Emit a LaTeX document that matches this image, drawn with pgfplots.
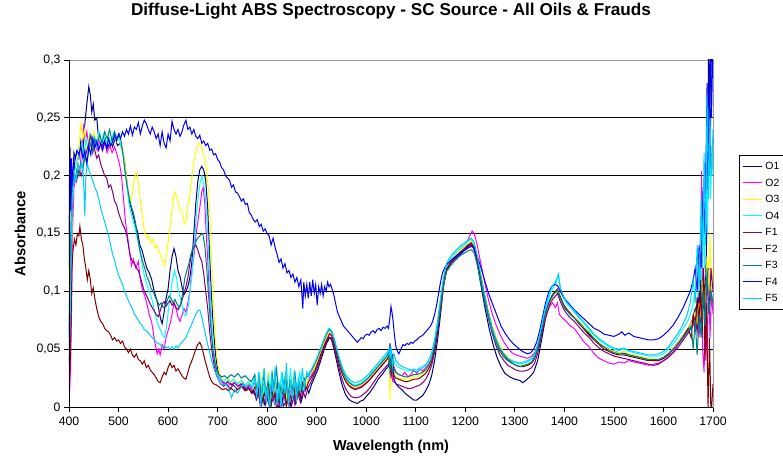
\documentclass[border=0pt]{standalone}
\usepackage{fontspec}
\setmainfont{Liberation Sans}
\usepackage{pgfplots}
\pgfplotsset{compat=1.18}

\definecolor{cO1}{HTML}{000080}
\definecolor{cO2}{HTML}{FF00FF}
\definecolor{cO3}{HTML}{FFFF00}
\definecolor{cO4}{HTML}{00FFFF}
\definecolor{cF1}{HTML}{800080}
\definecolor{cF2}{HTML}{800000}
\definecolor{cF3}{HTML}{008080}
\definecolor{cF4}{HTML}{0000FF}
\definecolor{cF5}{HTML}{00CCFF}

\begin{document}
\begin{tikzpicture}
\begin{axis}[
  at={(0,0)}, anchor=south west,
  scale only axis, width=644bp, height=347bp,
  xmin=400, xmax=1700, ymin=0, ymax=0.3,
  xtick={400,500,...,1700},
  ytick={0,0.05,0.1,0.15,0.2,0.25,0.3},
  scaled y ticks=false,
  /pgf/number format/assume math mode=true,
  xticklabel style={/pgf/number format/1000 sep={}, yshift=-1.5bp},
  yticklabel style={/pgf/number format/.cd, use comma, fixed, precision=2},
  ticklabel style={font=\fontsize{12.3}{14}\selectfont},
  tick pos=left, tick align=outside,
  major tick length=5bp,
  tick style={black, line width=0.75bp},
  ymajorgrids, grid style={black, line width=0.75bp},
  axis line style={draw=gray!80, line width=0.75bp},
  extra description/.code={
    \draw[black, line width=0.9bp] (0,1) -- (0,0) -- (1,0);
  },
  title={Diffuse-Light ABS Spectroscopy - SC Source - All Oils \& Frauds},
  title style={at={(axis description cs:0.5,1.1239)}, anchor=center,
    font=\bfseries\fontsize{17.2}{20}\selectfont},
  xlabel={Wavelength (nm)},
  xlabel style={at={(axis description cs:0.5,-0.1153)}, anchor=center,
    font=\bfseries\fontsize{14.5}{17}\selectfont},
  ylabel={Absorbance},
  ylabel style={at={(axis description cs:-0.0761,0.5)}, anchor=center,
    font=\bfseries\fontsize{14.8}{17}\selectfont},
  legend image code/.code={\draw[#1, line width=1bp] (0bp,0bp) -- (19bp,0bp);},
  legend cell align=left,
  legend style={at={(axis description cs:1.0404,0.7262)}, anchor=north west,
    draw=black, line width=0.75bp, fill=white,
    font=\fontsize{10.5}{12}\selectfont,
    inner xsep=3bp, inner ysep=6bp, row sep=7bp,
    nodes={inner sep=1bp, text height=7.5bp, text depth=0bp},
    /tikz/every odd column/.append style={column sep=2bp}},
  every axis plot/.append style={line width=1bp},
]

% O1
\addplot[cO1] coordinates {
(400,0.12)(402,0.21)(404,0.17)(406,0.205)(409,0.19)(412,0.215)(416,0.22)(420,0.215)(424,0.23)(428,0.22)(432,0.245)(436,0.262)(440,0.277)(443,0.27)(446,0.255)(449,0.262)(452,0.248)(456,0.25)(459,0.236)(463,0.23)(468,0.226)(473,0.232)(478,0.224)(483,0.23)(488,0.225)(493,0.232)(498,0.226)(503,0.228)(508,0.222)(513,0.21)(518,0.19)(523,0.176)(528,0.168)(533,0.159)(538,0.152)(543,0.14)(547,0.136)(552,0.128)(557,0.12)(562,0.116)(567,0.11)(572,0.1)(577,0.093)(581,0.085)(585,0.076)(588,0.072)(592,0.082)(596,0.094)(600,0.102)(604,0.118)(608,0.13)(612,0.137)(616,0.13)(620,0.118)(624,0.113)(628,0.104)(632,0.097)(636,0.1)(640,0.104)(644,0.112)(648,0.125)(652,0.15)(656,0.176)(660,0.195)(664,0.205)(668,0.208)(672,0.205)(676,0.196)(680,0.172)(683,0.14)(686,0.11)(689,0.085)(692,0.065)(696,0.045)(700,0.032)(705,0.025)(710,0.022)(716,0.02)(722,0.022)(728,0.019)(735,0.021)(742,0.018)(750,0.02)(757,0.016)(764,0.019)(770,0.014)
(776,0.01)(781,0.017)(785,0.005)(791,0.014)(794,0.002)(799,0.009)(805,0.0)(809,0.013)(815,0.003)(818,0.007)(824,-0.002)(829,0.011)(833,0.001)(840,0.006)(843,0.014)(848,0.0)(855,0.01)(858,0.003)(864,0.015)(869,0.005)(874,0.013)(878,0.02)(884,0.012)(890,0.02)(896,0.026)(902,0.032)(908,0.04)(914,0.048)(920,0.055)(926,0.06)(930,0.058)(935,0.05)(940,0.04)(946,0.028)(952,0.018)(958,0.011)(964,0.007)(970,0.005)(976,0.004)(982,0.003)(988,0.005)(994,0.006)(1000,0.009)(1008,0.013)(1016,0.018)(1024,0.024)(1032,0.028)(1040,0.033)(1045,0.035)(1048,0.055)(1050,0.03)(1053,0.046)(1056,0.024)(1060,0.02)(1066,0.017)(1072,0.015)(1078,0.012)(1084,0.01)(1090,0.008)(1096,0.006)(1102,0.006)(1108,0.008)(1114,0.01)(1120,0.014)(1126,0.019)(1132,0.027)(1138,0.04)(1144,0.058)(1150,0.08)(1156,0.104)(1162,0.118)(1170,0.124)(1180,0.128)(1190,0.132)(1200,0.136)(1208,0.139)(1214,0.14)(1220,0.133)(1226,0.12)(1232,0.104)(1240,0.085)(1248,0.068)(1256,0.054)(1264,0.043)(1272,0.035)(1280,0.029)(1290,0.026)(1300,0.024)(1310,0.023)(1316,0.021)(1322,0.023)(1330,0.026)(1338,0.03)(1346,0.04)(1354,0.058)(1362,0.077)(1370,0.091)(1378,0.098)(1385,0.1)(1392,0.094)(1400,0.086)(1410,0.081)(1420,0.077)(1435,0.07)(1450,0.063)(1465,0.057)(1480,0.052)(1495,0.049)(1510,0.047)(1525,0.046)(1540,0.044)(1555,0.043)(1570,0.041)(1585,0.04)(1600,0.042)(1610,0.046)(1620,0.051)(1630,0.056)(1640,0.062)(1650,0.068)(1658,0.075)(1664,0.085)(1668,0.07)(1672,0.1)(1676,0.08)(1680,0.12)(1684,0.09)(1688,0.16)(1691,0.31)(1694,0.2)(1697,0.32)(1700,0.31)
};
\addlegendentry{O1\hspace{20bp}}

% O2
\addplot[cO2] coordinates {
(400,0.07)(401,0.012)(403,0.03)(405,0.08)(407,0.15)(410,0.19)(414,0.2)(418,0.21)(422,0.205)(426,0.225)(430,0.245)(433,0.23)(436,0.238)(440,0.225)(444,0.232)(448,0.22)(452,0.228)(457,0.222)(462,0.23)(467,0.222)(472,0.228)(477,0.22)(482,0.226)(487,0.22)(492,0.225)(497,0.218)(502,0.21)(506,0.2)(510,0.18)(514,0.16)(518,0.148)(522,0.135)(526,0.122)(530,0.128)(535,0.12)(540,0.126)(544,0.11)(548,0.102)(553,0.096)(558,0.088)(562,0.08)(567,0.073)(571,0.062)(575,0.052)(578,0.046)(581,0.05)(584,0.045)(588,0.054)(592,0.05)(596,0.06)(600,0.066)(604,0.072)(608,0.08)(612,0.09)(616,0.085)(620,0.078)(624,0.074)(628,0.079)(632,0.085)(636,0.082)(640,0.09)(644,0.1)(648,0.118)(652,0.13)(656,0.148)(660,0.16)(664,0.172)(668,0.186)(671,0.19)(674,0.176)(677,0.15)(680,0.128)(683,0.1)(686,0.08)(689,0.06)(692,0.045)(696,0.035)(700,0.028)(705,0.024)(712,0.02)(718,0.023)(725,0.019)(732,0.022)(740,0.018)(748,0.021)(755,0.017)(762,0.02)(768,0.015)
(775,0.022)(779,0.012)(783,0.019)(788,0.004)(791,0.021)(797,0.009)(802,0.016)(805,0.001)(811,0.024)(814,0.007)(819,0.013)(824,0.002)(827,0.02)(833,0.008)(836,0.026)(842,0.004)(846,0.012)(851,0.019)(855,0.003)(861,0.018)(866,0.008)(871,0.021)(877,0.014)(883,0.024)(889,0.027)(895,0.033)(901,0.038)(907,0.046)(913,0.052)(919,0.06)(925,0.064)(930,0.062)(936,0.055)(942,0.044)(948,0.034)(954,0.027)(960,0.022)(966,0.019)(972,0.017)(978,0.016)(984,0.017)(990,0.018)(996,0.02)(1004,0.023)(1012,0.027)(1020,0.031)(1028,0.035)(1036,0.039)(1042,0.042)(1046,0.045)(1048,0.03)(1050,0.05)(1053,0.022)(1056,0.035)(1060,0.03)(1066,0.028)(1072,0.027)(1078,0.03)(1084,0.026)(1090,0.028)(1096,0.032)(1102,0.029)(1108,0.033)(1114,0.031)(1120,0.034)(1126,0.037)(1132,0.042)(1138,0.052)(1144,0.068)(1150,0.088)(1156,0.108)(1162,0.12)(1170,0.126)(1180,0.132)(1190,0.136)(1198,0.14)(1205,0.144)(1210,0.149)(1214,0.152)(1218,0.15)(1224,0.14)(1230,0.127)(1238,0.11)(1246,0.094)(1254,0.081)(1262,0.071)(1270,0.063)(1278,0.056)(1286,0.051)(1294,0.047)(1302,0.045)(1310,0.044)(1318,0.043)(1326,0.042)(1334,0.044)(1340,0.047)(1346,0.052)(1352,0.062)(1358,0.072)(1364,0.08)(1370,0.087)(1376,0.09)(1382,0.086)(1386,0.09)(1390,0.08)(1396,0.077)(1404,0.074)(1412,0.07)(1420,0.068)(1430,0.062)(1440,0.056)(1450,0.052)(1460,0.046)(1470,0.042)(1480,0.04)(1490,0.038)(1500,0.037)(1510,0.039)(1520,0.038)(1530,0.04)(1540,0.039)(1550,0.038)(1560,0.037)(1570,0.036)(1580,0.037)(1590,0.038)(1600,0.04)(1610,0.043)(1620,0.048)(1630,0.054)(1640,0.06)(1650,0.067)(1658,0.074)(1664,0.068)(1668,0.085)(1672,0.06)(1675,0.1)(1677,0.204)(1679,0.05)(1682,0.03)(1685,0.09)(1688,0.04)(1691,0.12)(1694,0.06)(1697,0.1)(1700,0.08)
};
\addlegendentry{O2}

% O3
\addplot[cO3] coordinates {
(400,0.1)(402,0.15)(405,0.13)(408,0.19)(412,0.2)(416,0.215)(420,0.225)(424,0.245)(428,0.232)(432,0.24)(436,0.22)(440,0.235)(445,0.228)(450,0.238)(455,0.226)(460,0.234)(465,0.228)(470,0.236)(475,0.226)(480,0.233)(485,0.228)(490,0.236)(495,0.229)(500,0.232)(505,0.226)(509,0.222)(513,0.21)(517,0.195)(521,0.182)(525,0.178)(529,0.188)(533,0.2)(537,0.203)(541,0.19)(545,0.175)(549,0.162)(553,0.15)(557,0.146)(561,0.148)(565,0.142)(569,0.145)(573,0.138)(577,0.14)(581,0.134)(585,0.132)(589,0.125)(593,0.122)(597,0.132)(601,0.145)(605,0.158)(609,0.175)(613,0.186)(617,0.182)(621,0.176)(625,0.17)(629,0.168)(633,0.158)(636,0.16)(639,0.172)(643,0.18)(647,0.195)(651,0.21)(655,0.218)(659,0.225)(663,0.228)(667,0.225)(671,0.22)(675,0.214)(679,0.2)(683,0.178)(686,0.15)(689,0.115)(692,0.085)(695,0.062)(698,0.045)(701,0.036)(705,0.028)(710,0.024)(716,0.022)(722,0.024)(728,0.021)(735,0.023)(742,0.02)(750,0.022)(757,0.019)(764,0.021)(770,0.017)
(776,0.024)(780,0.014)(786,0.028)(790,0.006)(795,0.019)(799,0.01)(803,0.031)(807,0.004)(813,0.017)(816,0.024)(821,0.005)(826,0.02)(830,0.011)(836,0.027)(839,0.006)(845,0.022)(850,0.012)(854,0.03)(859,0.009)(865,0.02)(870,0.013)(875,0.026)(879,0.018)(884,0.027)(890,0.03)(896,0.034)(902,0.04)(908,0.047)(914,0.054)(920,0.06)(926,0.066)(930,0.064)(936,0.056)(942,0.045)(948,0.035)(954,0.028)(960,0.023)(966,0.02)(972,0.018)(978,0.017)(984,0.018)(990,0.019)(996,0.021)(1004,0.024)(1012,0.028)(1020,0.032)(1028,0.036)(1036,0.04)(1042,0.043)(1046,0.046)(1048,0.006)(1050,0.04)(1053,0.03)(1056,0.028)(1060,0.027)(1066,0.025)(1072,0.024)(1078,0.025)(1084,0.023)(1090,0.025)(1096,0.027)(1102,0.026)(1108,0.028)(1114,0.029)(1120,0.031)(1126,0.034)(1132,0.04)(1138,0.05)(1144,0.066)(1150,0.086)(1156,0.106)(1162,0.12)(1170,0.127)(1180,0.132)(1190,0.136)(1198,0.139)(1205,0.142)(1212,0.144)(1218,0.14)(1224,0.13)(1230,0.118)(1238,0.1)(1246,0.085)(1254,0.071)(1262,0.061)(1270,0.053)(1278,0.047)(1286,0.043)(1294,0.04)(1302,0.038)(1310,0.037)(1318,0.036)(1326,0.037)(1334,0.039)(1340,0.043)(1346,0.05)(1352,0.06)(1358,0.072)(1364,0.082)(1370,0.09)(1376,0.096)(1382,0.099)(1386,0.1)(1392,0.094)(1398,0.088)(1404,0.085)(1412,0.081)(1420,0.078)(1430,0.074)(1440,0.069)(1450,0.065)(1460,0.06)(1470,0.056)(1480,0.052)(1490,0.05)(1500,0.048)(1510,0.047)(1520,0.048)(1530,0.046)(1540,0.045)(1550,0.044)(1560,0.043)(1570,0.042)(1580,0.042)(1590,0.041)(1600,0.043)(1610,0.046)(1620,0.051)(1630,0.056)(1640,0.062)(1650,0.068)(1658,0.074)(1664,0.082)(1668,0.07)(1672,0.09)(1676,0.075)(1680,0.11)(1684,0.08)(1688,0.13)(1691,0.09)(1694,0.15)(1697,0.1)(1700,0.12)
};
\addlegendentry{O3}

% O4
\addplot[cO4] coordinates {
(400,0.16)(402,0.09)(404,0.12)(407,0.18)(410,0.2)(414,0.21)(418,0.215)(422,0.22)(426,0.228)(430,0.215)(434,0.232)(438,0.222)(442,0.236)(446,0.226)(450,0.234)(455,0.225)(460,0.238)(465,0.228)(470,0.236)(475,0.226)(480,0.234)(485,0.228)(490,0.237)(495,0.23)(500,0.234)(505,0.226)(509,0.22)(513,0.205)(517,0.19)(521,0.176)(525,0.168)(529,0.162)(533,0.155)(537,0.148)(541,0.14)(545,0.13)(549,0.12)(553,0.112)(557,0.106)(561,0.1)(565,0.097)(569,0.09)(573,0.083)(577,0.075)(581,0.07)(585,0.066)(589,0.062)(593,0.06)(597,0.07)(601,0.085)(605,0.098)(609,0.11)(613,0.118)(617,0.112)(621,0.1)(625,0.094)(629,0.086)(633,0.079)(637,0.08)(641,0.088)(645,0.102)(649,0.118)(653,0.14)(657,0.165)(661,0.182)(665,0.195)(668,0.2)(672,0.193)(676,0.178)(680,0.15)(683,0.12)(686,0.09)(689,0.065)(692,0.048)(696,0.036)(700,0.029)(705,0.025)(712,0.022)(718,0.025)(725,0.021)(732,0.024)(740,0.02)(748,0.023)(755,0.019)(762,0.022)(768,0.018)
(775,0.026)(780,0.01)(784,0.03)(789,0.008)(793,0.018)(797,0.004)(802,0.027)(806,0.014)(810,0.032)(815,0.003)(820,0.022)(823,0.009)(829,0.028)(834,0.005)(838,0.019)(843,0.012)(847,0.034)(852,0.007)(857,0.024)(862,0.015)(866,0.03)(871,0.012)(877,0.022)(883,0.029)(889,0.032)(895,0.037)(901,0.042)(907,0.049)(913,0.056)(919,0.063)(925,0.068)(930,0.066)(936,0.058)(942,0.047)(948,0.038)(954,0.031)(960,0.026)(966,0.022)(972,0.02)(978,0.019)(984,0.02)(990,0.021)(996,0.023)(1004,0.026)(1012,0.03)(1020,0.034)(1028,0.038)(1036,0.042)(1042,0.045)(1046,0.05)(1048,0.035)(1050,0.048)(1053,0.032)(1056,0.04)(1060,0.036)(1066,0.034)(1072,0.033)(1078,0.032)(1084,0.031)(1090,0.032)(1096,0.033)(1102,0.032)(1108,0.034)(1114,0.035)(1120,0.037)(1126,0.04)(1132,0.046)(1138,0.057)(1144,0.072)(1150,0.092)(1156,0.11)(1162,0.122)(1170,0.128)(1180,0.133)(1190,0.137)(1198,0.14)(1205,0.143)(1212,0.145)(1218,0.141)(1224,0.13)(1230,0.116)(1238,0.098)(1246,0.082)(1254,0.068)(1262,0.058)(1270,0.05)(1278,0.045)(1286,0.041)(1294,0.039)(1302,0.038)(1310,0.037)(1318,0.038)(1326,0.039)(1334,0.041)(1340,0.045)(1346,0.053)(1352,0.064)(1358,0.076)(1364,0.087)(1370,0.096)(1376,0.102)(1382,0.106)(1388,0.114)(1392,0.1)(1398,0.094)(1404,0.09)(1412,0.086)(1420,0.082)(1430,0.077)(1440,0.072)(1450,0.067)(1460,0.062)(1470,0.058)(1480,0.055)(1490,0.052)(1500,0.05)(1510,0.049)(1520,0.05)(1530,0.048)(1540,0.047)(1550,0.046)(1560,0.045)(1570,0.044)(1580,0.044)(1590,0.044)(1600,0.046)(1610,0.05)(1620,0.055)(1630,0.061)(1640,0.068)(1650,0.075)(1658,0.085)(1664,0.1)(1668,0.08)(1672,0.13)(1676,0.095)(1680,0.17)(1683,0.12)(1686,0.22)(1689,0.15)(1692,0.26)(1695,0.18)(1698,0.22)(1700,0.2)
};
\addlegendentry{O4}

% F1
\addplot[cF1] coordinates {
(400,0.08)(402,0.05)(404,0.13)(407,0.19)(411,0.2)(415,0.195)(420,0.205)(425,0.2)(430,0.212)(435,0.22)(440,0.228)(444,0.235)(448,0.226)(452,0.222)(456,0.215)(460,0.218)(464,0.21)(468,0.205)(472,0.2)(476,0.198)(480,0.19)(484,0.192)(488,0.186)(492,0.178)(496,0.175)(500,0.168)(504,0.163)(508,0.158)(512,0.155)(516,0.15)(520,0.14)(524,0.13)(528,0.126)(532,0.124)(536,0.12)(540,0.118)(544,0.112)(548,0.106)(552,0.1)(556,0.097)(560,0.093)(564,0.089)(568,0.086)(572,0.083)(576,0.08)(580,0.078)(584,0.083)(588,0.089)(592,0.091)(596,0.087)(600,0.09)(604,0.092)(608,0.088)(612,0.09)(616,0.086)(620,0.084)(624,0.087)(628,0.092)(632,0.098)(636,0.104)(640,0.112)(644,0.124)(648,0.134)(652,0.138)(656,0.14)(660,0.136)(664,0.13)(668,0.126)(672,0.115)(676,0.1)(680,0.085)(684,0.065)(688,0.05)(692,0.038)(696,0.03)(700,0.025)(706,0.02)(712,0.018)(718,0.02)(725,0.016)(732,0.019)(740,0.015)(748,0.018)(755,0.014)(762,0.017)(768,0.012)
(774,0.014)(778,0.006)(783,0.012)(787,-0.002)(792,0.009)(797,0.002)(801,0.013)(806,-0.003)(810,0.005)(815,0.011)(819,-0.002)(824,0.007)(829,0.0)(834,0.012)(838,0.002)(843,0.006)(848,-0.002)(852,0.01)(857,0.003)(862,0.012)(867,0.004)(872,0.014)(877,0.008)(882,0.016)(888,0.021)(894,0.027)(900,0.033)(906,0.04)(912,0.048)(918,0.055)(924,0.06)(929,0.06)(934,0.054)(940,0.043)(946,0.032)(952,0.023)(958,0.016)(964,0.012)(970,0.009)(976,0.008)(982,0.008)(988,0.009)(994,0.011)(1000,0.013)(1008,0.017)(1016,0.022)(1024,0.027)(1032,0.031)(1040,0.035)(1045,0.037)(1048,0.042)(1050,0.025)(1053,0.038)(1056,0.022)(1060,0.02)(1066,0.019)(1072,0.018)(1078,0.017)(1084,0.016)(1090,0.016)(1096,0.017)(1102,0.018)(1108,0.019)(1114,0.021)(1120,0.024)(1126,0.029)(1132,0.036)(1138,0.047)(1144,0.064)(1150,0.085)(1156,0.105)(1162,0.118)(1170,0.124)(1180,0.129)(1190,0.133)(1198,0.136)(1205,0.139)(1212,0.141)(1218,0.137)(1224,0.126)(1230,0.112)(1238,0.094)(1246,0.078)(1254,0.064)(1262,0.053)(1270,0.045)(1278,0.04)(1286,0.036)(1294,0.034)(1302,0.032)(1310,0.031)(1318,0.031)(1326,0.032)(1334,0.034)(1340,0.038)(1346,0.046)(1352,0.058)(1358,0.07)(1364,0.08)(1370,0.088)(1376,0.093)(1382,0.096)(1386,0.098)(1392,0.091)(1398,0.085)(1404,0.081)(1412,0.077)(1420,0.074)(1430,0.069)(1440,0.064)(1450,0.06)(1460,0.055)(1470,0.051)(1480,0.048)(1490,0.046)(1500,0.044)(1510,0.043)(1520,0.042)(1530,0.041)(1540,0.04)(1550,0.039)(1560,0.038)(1570,0.037)(1580,0.036)(1590,0.037)(1600,0.04)(1610,0.043)(1620,0.047)(1630,0.052)(1640,0.058)(1650,0.064)(1658,0.07)(1664,0.078)(1668,0.065)(1672,0.085)(1676,0.07)(1680,0.1)(1684,0.075)(1688,0.11)(1692,0.08)(1696,0.12)(1700,0.1)
};
\addlegendentry{F1}

% F2
\addplot[cF2] coordinates {
(400,0.045)(402,0.03)(404,0.07)(406,0.12)(408,0.135)(411,0.145)(414,0.14)(417,0.15)(420,0.148)(422,0.156)(425,0.145)(428,0.14)(431,0.128)(434,0.12)(437,0.11)(440,0.118)(443,0.11)(446,0.098)(449,0.103)(452,0.094)(456,0.085)(460,0.078)(464,0.074)(468,0.072)(472,0.068)(476,0.066)(480,0.065)(484,0.062)(488,0.058)(492,0.06)(496,0.057)(500,0.058)(504,0.055)(508,0.057)(512,0.052)(516,0.05)(520,0.047)(524,0.05)(528,0.045)(532,0.043)(536,0.046)(540,0.041)(544,0.04)(548,0.037)(552,0.04)(556,0.034)(560,0.036)(564,0.032)(568,0.03)(572,0.028)(576,0.025)(580,0.022)(584,0.021)(588,0.026)(592,0.03)(596,0.028)(600,0.034)(604,0.038)(608,0.034)(612,0.036)(616,0.031)(620,0.033)(624,0.03)(628,0.027)(632,0.025)(636,0.024)(640,0.03)(644,0.036)(648,0.04)(652,0.045)(656,0.05)(660,0.054)(664,0.056)(668,0.052)(672,0.045)(676,0.038)(680,0.032)(684,0.026)(688,0.022)(692,0.02)(698,0.019)(704,0.017)(710,0.015)(716,0.016)(722,0.014)(728,0.016)(735,0.013)(742,0.016)(750,0.018)(757,0.014)(764,0.016)(770,0.012)
(776,0.018)(780,0.009)(785,0.02)(789,0.003)(794,0.012)(798,0.006)(803,0.019)(807,0.0)(812,0.015)(816,0.008)(821,0.022)(826,0.002)(830,0.011)(835,0.017)(839,0.001)(844,0.014)(849,0.006)(853,0.02)(858,0.004)(863,0.013)(867,0.009)(872,0.021)(878,0.015)(884,0.022)(890,0.026)(896,0.031)(902,0.038)(908,0.045)(914,0.052)(920,0.058)(926,0.063)(930,0.062)(936,0.054)(942,0.043)(948,0.033)(954,0.026)(960,0.021)(966,0.018)(972,0.016)(978,0.015)(984,0.016)(990,0.017)(996,0.019)(1004,0.022)(1012,0.026)(1020,0.03)(1028,0.034)(1036,0.038)(1042,0.041)(1046,0.044)(1048,0.05)(1050,0.032)(1053,0.042)(1056,0.027)(1060,0.025)(1066,0.024)(1072,0.023)(1078,0.022)(1084,0.022)(1090,0.023)(1096,0.024)(1102,0.024)(1108,0.025)(1114,0.027)(1120,0.029)(1126,0.033)(1132,0.039)(1138,0.05)(1144,0.066)(1150,0.087)(1156,0.107)(1162,0.119)(1170,0.125)(1180,0.13)(1190,0.134)(1198,0.137)(1205,0.14)(1212,0.142)(1218,0.138)(1224,0.128)(1230,0.115)(1238,0.098)(1246,0.082)(1254,0.068)(1262,0.058)(1270,0.05)(1278,0.045)(1286,0.041)(1294,0.038)(1302,0.036)(1310,0.035)(1318,0.035)(1326,0.036)(1334,0.038)(1340,0.042)(1346,0.05)(1352,0.061)(1358,0.074)(1364,0.084)(1370,0.092)(1376,0.097)(1382,0.1)(1386,0.102)(1392,0.095)(1398,0.089)(1404,0.085)(1412,0.081)(1420,0.077)(1430,0.072)(1440,0.067)(1450,0.062)(1460,0.058)(1470,0.054)(1480,0.05)(1490,0.048)(1500,0.046)(1510,0.045)(1520,0.045)(1530,0.044)(1540,0.043)(1550,0.042)(1560,0.041)(1570,0.04)(1580,0.04)(1590,0.04)(1600,0.042)(1610,0.045)(1620,0.05)(1630,0.055)(1640,0.061)(1650,0.068)(1656,0.06)(1660,0.08)(1664,0.065)(1668,0.095)(1672,0.07)(1675,0.11)(1678,0.06)(1681,0.12)(1684,0.04)(1687,0.09)(1690,0.0)(1693,0.06)(1696,-0.01)(1700,0.02)
};
\addlegendentry{F2}

% F3
\addplot[cF3] coordinates {
(400,0.06)(402,0.12)(405,0.18)(408,0.2)(412,0.195)(416,0.205)(420,0.2)(424,0.21)(428,0.205)(432,0.218)(436,0.21)(440,0.222)(444,0.228)(448,0.22)(452,0.232)(457,0.226)(462,0.236)(467,0.228)(472,0.238)(477,0.232)(482,0.24)(487,0.23)(492,0.238)(497,0.232)(502,0.236)(506,0.228)(510,0.215)(514,0.2)(518,0.19)(522,0.18)(526,0.173)(530,0.168)(534,0.16)(538,0.148)(542,0.138)(546,0.13)(550,0.124)(554,0.118)(558,0.112)(562,0.108)(566,0.102)(570,0.1)(574,0.095)(578,0.092)(582,0.088)(586,0.09)(590,0.086)(594,0.087)(598,0.092)(602,0.096)(606,0.094)(610,0.09)(614,0.093)(618,0.089)(622,0.086)(626,0.09)(630,0.1)(634,0.112)(638,0.118)(642,0.124)(646,0.132)(650,0.137)(654,0.14)(658,0.145)(662,0.147)(666,0.149)(670,0.15)(674,0.14)(678,0.12)(682,0.095)(686,0.07)(690,0.052)(694,0.04)(698,0.032)(703,0.028)(708,0.026)(714,0.027)(720,0.025)(727,0.028)(734,0.026)(741,0.029)(748,0.025)(755,0.027)(762,0.024)(768,0.022)
(775,0.028)(779,0.015)(784,0.024)(788,0.006)(793,0.03)(797,0.012)(801,0.02)(806,0.004)(810,0.028)(814,0.016)(819,0.033)(824,0.007)(828,0.018)(833,0.01)(837,0.029)(842,0.005)(846,0.022)(851,0.014)(856,0.031)(860,0.008)(865,0.021)(870,0.016)(876,0.025)(883,0.027)(889,0.031)(895,0.036)(901,0.042)(907,0.049)(913,0.056)(919,0.062)(925,0.067)(930,0.065)(936,0.057)(942,0.046)(948,0.036)(954,0.029)(960,0.024)(966,0.021)(972,0.019)(978,0.018)(984,0.019)(990,0.02)(996,0.022)(1004,0.025)(1012,0.029)(1020,0.033)(1028,0.037)(1036,0.041)(1042,0.044)(1046,0.047)(1048,0.028)(1050,0.045)(1053,0.03)(1056,0.033)(1060,0.03)(1066,0.028)(1072,0.027)(1078,0.026)(1084,0.026)(1090,0.027)(1096,0.028)(1102,0.028)(1108,0.029)(1114,0.03)(1120,0.032)(1126,0.036)(1132,0.042)(1138,0.053)(1144,0.068)(1150,0.088)(1156,0.106)(1162,0.117)(1170,0.122)(1180,0.127)(1190,0.131)(1198,0.133)(1205,0.135)(1212,0.136)(1218,0.133)(1224,0.123)(1230,0.11)(1238,0.094)(1246,0.078)(1254,0.065)(1262,0.055)(1270,0.048)(1278,0.043)(1286,0.04)(1294,0.038)(1302,0.036)(1310,0.035)(1318,0.036)(1326,0.037)(1334,0.039)(1340,0.043)(1346,0.051)(1352,0.062)(1358,0.074)(1364,0.084)(1370,0.091)(1376,0.096)(1382,0.099)(1386,0.101)(1392,0.094)(1398,0.088)(1404,0.084)(1412,0.08)(1420,0.077)(1430,0.073)(1440,0.068)(1450,0.064)(1460,0.059)(1470,0.055)(1480,0.052)(1490,0.049)(1500,0.047)(1510,0.046)(1520,0.046)(1530,0.045)(1540,0.044)(1550,0.043)(1560,0.042)(1570,0.041)(1580,0.041)(1590,0.041)(1600,0.043)(1610,0.046)(1620,0.05)(1630,0.055)(1640,0.06)(1650,0.066)(1656,0.07)(1660,0.05)(1664,0.075)(1668,0.045)(1672,0.08)(1676,0.06)(1680,0.1)(1684,0.07)(1688,0.12)(1692,0.08)(1696,0.1)(1700,0.09)
};
\addlegendentry{F3}

% F4
\addplot[cF4] coordinates {
(400,0.15)(401,0.2)(402,0.225)(403,0.17)(405,0.215)(407,0.19)(410,0.22)(413,0.215)(416,0.222)(420,0.218)(424,0.225)(428,0.215)(432,0.222)(436,0.21)(440,0.225)(444,0.218)(448,0.232)(452,0.224)(456,0.23)(460,0.222)(464,0.228)(468,0.222)(472,0.23)(476,0.224)(480,0.232)(484,0.226)(488,0.229)(492,0.235)(496,0.23)(500,0.236)(504,0.232)(508,0.238)(512,0.234)(516,0.24)(520,0.236)(524,0.243)(528,0.235)(532,0.242)(536,0.24)(540,0.246)(544,0.236)(548,0.243)(552,0.248)(556,0.245)(560,0.24)(564,0.236)(568,0.242)(572,0.238)(576,0.232)(580,0.236)(584,0.226)(588,0.238)(592,0.228)(596,0.224)(600,0.236)(604,0.23)(608,0.247)(612,0.24)(616,0.236)(620,0.24)(624,0.234)(628,0.238)(632,0.244)(636,0.248)(640,0.24)(644,0.242)(648,0.236)(652,0.24)(656,0.234)(660,0.232)(664,0.235)(668,0.228)(672,0.23)(676,0.226)(680,0.228)(684,0.222)(688,0.223)(692,0.218)(696,0.219)(700,0.214)(704,0.212)(708,0.207)(712,0.205)(716,0.2)(720,0.198)(724,0.196)(728,0.19)(732,0.192)(736,0.186)(740,0.185)(744,0.182)(748,0.178)(752,0.18)(756,0.175)(760,0.176)(764,0.168)(768,0.166)(772,0.162)(776,0.16)(780,0.162)(784,0.156)(788,0.158)(792,0.152)(796,0.154)(800,0.15)(804,0.148)(808,0.14)(812,0.146)(816,0.138)(820,0.132)(824,0.125)(828,0.128)(832,0.12)(836,0.124)(840,0.116)(844,0.118)(848,0.112)(852,0.115)(856,0.108)(860,0.112)(864,0.104)(868,0.11)(872,0.085)(874,0.108)(877,0.096)(880,0.106)(883,0.094)(886,0.108)(889,0.096)(892,0.11)(895,0.098)(898,0.106)(901,0.088)(904,0.104)(907,0.098)(910,0.106)(913,0.096)(916,0.104)(919,0.1)(922,0.108)(925,0.104)(928,0.106)(931,0.102)(934,0.098)(938,0.09)(942,0.082)(946,0.078)(950,0.074)(954,0.07)(958,0.068)(962,0.066)(966,0.064)(970,0.062)(974,0.06)(978,0.058)(982,0.056)(986,0.058)(990,0.06)(994,0.059)(998,0.062)(1002,0.063)(1006,0.062)(1010,0.065)(1014,0.066)(1018,0.064)(1022,0.067)(1026,0.068)(1030,0.066)(1034,0.069)(1038,0.068)(1042,0.07)(1045,0.068)(1048,0.078)(1050,0.087)(1052,0.082)(1054,0.075)(1057,0.062)(1060,0.052)(1063,0.048)(1066,0.046)(1070,0.05)(1074,0.054)(1078,0.053)(1082,0.055)(1086,0.054)(1090,0.056)(1094,0.055)(1098,0.057)(1102,0.058)(1106,0.06)(1110,0.061)(1114,0.062)(1118,0.064)(1122,0.066)(1126,0.068)(1130,0.07)(1134,0.074)(1138,0.08)(1142,0.088)(1146,0.098)(1150,0.108)(1154,0.116)(1158,0.12)(1164,0.124)(1172,0.127)(1180,0.13)(1190,0.133)(1200,0.136)(1208,0.138)(1214,0.139)(1220,0.135)(1226,0.128)(1232,0.12)(1240,0.108)(1248,0.097)(1256,0.088)(1264,0.079)(1272,0.07)(1280,0.064)(1288,0.059)(1296,0.055)(1304,0.052)(1312,0.049)(1320,0.047)(1326,0.046)(1332,0.047)(1338,0.05)(1344,0.056)(1350,0.066)(1356,0.078)(1362,0.09)(1368,0.099)(1374,0.104)(1380,0.106)(1386,0.105)(1392,0.1)(1400,0.094)(1410,0.089)(1420,0.084)(1430,0.08)(1440,0.076)(1450,0.072)(1460,0.068)(1470,0.066)(1480,0.063)(1490,0.062)(1500,0.061)(1510,0.063)(1516,0.065)(1522,0.062)(1530,0.064)(1540,0.061)(1550,0.06)(1560,0.059)(1570,0.058)(1580,0.058)(1590,0.059)(1600,0.062)(1610,0.066)(1620,0.071)(1630,0.078)(1640,0.086)(1648,0.094)(1654,0.1)(1660,0.11)(1664,0.12)(1668,0.1)(1672,0.14)(1676,0.12)(1680,0.19)(1684,0.15)(1688,0.28)(1691,0.2)(1694,0.32)(1697,0.25)(1700,0.32)
};
\addlegendentry{F4}

% F5
\addplot[cF5] coordinates {
(400,0.1)(401,0.05)(403,0.09)(405,0.16)(408,0.19)(411,0.2)(414,0.195)(418,0.21)(422,0.205)(426,0.212)(429,0.2)(432,0.165)(434,0.2)(437,0.21)(440,0.205)(444,0.2)(448,0.196)(452,0.19)(456,0.186)(460,0.18)(464,0.172)(468,0.166)(472,0.16)(476,0.154)(480,0.148)(484,0.14)(488,0.132)(492,0.127)(496,0.12)(500,0.114)(504,0.11)(508,0.106)(512,0.1)(516,0.096)(520,0.092)(524,0.088)(528,0.085)(532,0.08)(536,0.078)(540,0.075)(544,0.072)(548,0.07)(552,0.067)(556,0.066)(560,0.064)(564,0.062)(568,0.06)(572,0.058)(576,0.056)(580,0.055)(584,0.054)(588,0.052)(592,0.053)(596,0.051)(600,0.052)(604,0.05)(608,0.052)(612,0.05)(616,0.053)(620,0.051)(624,0.054)(628,0.056)(632,0.058)(636,0.06)(640,0.064)(644,0.068)(648,0.072)(652,0.076)(656,0.08)(660,0.083)(664,0.084)(668,0.078)(672,0.07)(676,0.062)(680,0.054)(684,0.047)(688,0.04)(692,0.034)(696,0.029)(700,0.025)(705,0.021)(710,0.019)(716,0.02)(722,0.016)(728,0.008)(734,0.015)(740,0.012)(746,0.016)(752,0.02)(758,0.017)(764,0.02)(770,0.016)
(776,0.026)(779,0.008)(783,0.03)(787,-0.003)(790,0.02)(794,0.034)(798,0.004)(801,0.018)(805,-0.004)(809,0.028)(813,0.01)(816,0.035)(820,0.002)(824,0.022)(828,-0.002)(831,0.03)(835,0.012)(839,0.038)(843,0.0)(847,0.024)(851,0.006)(855,0.032)(859,0.004)(863,0.026)(867,0.012)(871,0.034)(875,0.016)(880,0.03)(884,0.026)(890,0.033)(896,0.038)(902,0.044)(908,0.051)(914,0.058)(920,0.064)(925,0.068)(930,0.066)(936,0.058)(942,0.048)(948,0.039)(954,0.032)(960,0.027)(966,0.024)(972,0.022)(978,0.021)(984,0.022)(990,0.023)(996,0.025)(1004,0.028)(1012,0.032)(1020,0.036)(1028,0.04)(1036,0.044)(1042,0.047)(1046,0.05)(1048,0.042)(1050,0.052)(1053,0.036)(1056,0.046)(1060,0.04)(1066,0.037)(1072,0.035)(1078,0.034)(1084,0.033)(1090,0.032)(1096,0.031)(1102,0.031)(1108,0.032)(1114,0.034)(1120,0.036)(1126,0.04)(1132,0.047)(1138,0.058)(1144,0.074)(1150,0.094)(1156,0.112)(1162,0.124)(1170,0.13)(1180,0.135)(1190,0.139)(1198,0.142)(1205,0.144)(1212,0.146)(1218,0.142)(1224,0.131)(1230,0.117)(1238,0.099)(1246,0.083)(1254,0.069)(1262,0.059)(1270,0.051)(1278,0.046)(1286,0.042)(1294,0.04)(1302,0.039)(1310,0.038)(1318,0.039)(1326,0.04)(1334,0.042)(1340,0.046)(1346,0.054)(1352,0.066)(1358,0.079)(1364,0.09)(1370,0.099)(1376,0.105)(1382,0.108)(1388,0.115)(1392,0.103)(1398,0.096)(1404,0.091)(1412,0.087)(1420,0.083)(1430,0.078)(1440,0.073)(1450,0.068)(1460,0.063)(1470,0.059)(1480,0.056)(1490,0.053)(1500,0.051)(1510,0.05)(1520,0.051)(1530,0.049)(1540,0.048)(1550,0.047)(1560,0.046)(1570,0.045)(1580,0.045)(1590,0.046)(1600,0.048)(1610,0.052)(1620,0.058)(1630,0.064)(1640,0.072)(1648,0.08)(1654,0.09)(1660,0.11)(1664,0.09)(1668,0.14)(1672,0.1)(1676,0.18)(1679,0.12)(1682,0.22)(1685,0.14)(1688,0.27)(1691,0.18)(1694,0.25)(1697,0.2)(1700,0.24)
};
\addlegendentry{F5}

\end{axis}
\pgfresetboundingbox
\path[use as bounding box] (-69bp,-57bp) rectangle (714bp,407bp);
\end{tikzpicture}
\end{document}
